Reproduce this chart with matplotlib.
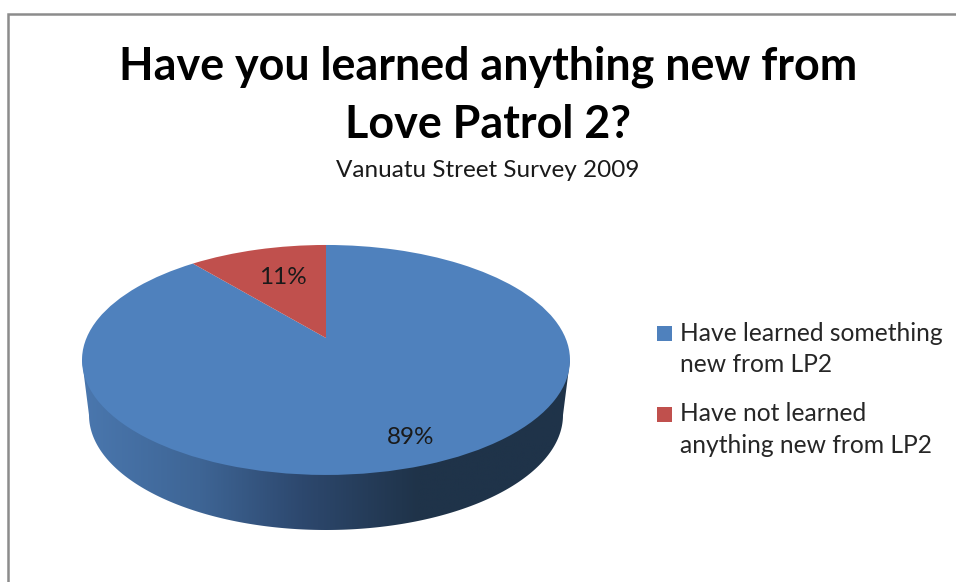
import numpy as np
import matplotlib
matplotlib.use('Agg')
import matplotlib.pyplot as plt
from matplotlib.colors import LinearSegmentedColormap
from matplotlib.patches import Polygon, Rectangle
from matplotlib.transforms import Transform

##Chart data##
TITLE = 'Have you learned anything new from\nLove Patrol 2?'
SUBTITLE = 'Vanuatu Street Survey 2009'
LABELS = ['Have learned something\nnew from LP2', 'Have not learned\nanything new from LP2']
VALUES = [89, 11]
COLORS = ['#4F81BD', '#C0504D']

##Pie geometry in pixels##
CX, APEX_Y = 326, 338
SX, SY, K = 239.5, 110.8, 0.191
TOP_CY, TOP_RX, TOP_RY = 360, 244, 115
LOW_CY, LOW_RX, LOW_RY = 415, 237, 115

plt.rcParams['font.family'] = ['Lato', 'DejaVu Sans']


#Tilts the flat pie into the picture, the far half is squeezed#
class Tilt(Transform):
    input_dims = 2
    output_dims = 2
    is_separable = False

    def transform_non_affine(self, values):
        x, y = np.asarray(values).T
        d = 1 + K * y
        return np.column_stack([CX + SX * x / d, APEX_Y - SY * y / d])


def draw_side(ax):
    t = np.linspace(np.pi, 2 * np.pi, 200)
    low = np.column_stack([CX + LOW_RX * np.cos(t), LOW_CY - LOW_RY * np.sin(t)])
    outline = np.vstack([[CX - TOP_RX, TOP_CY], low, [CX + TOP_RX, TOP_CY]])
    clip = Polygon(outline, closed=True, transform=ax.transData)
    cmap = LinearSegmentedColormap.from_list('side', [
        (0.0, '#4A77AE'), (0.24, '#3E6595'), (0.45, '#2D486E'),
        (0.69, '#1F3349'), (1.0, '#1F3349')])
    img = ax.imshow(np.linspace(0, 1, 256)[None, :], cmap=cmap, aspect='auto',
                    extent=(CX - TOP_RX, CX + TOP_RX, 535, 355), zorder=1)
    img.set_clip_path(clip)


def draw_legend(ax):
    square_tops = [325.5, 406.5]
    baselines = [(341, 372), (421, 453)]
    for label, color, top, (y1, y2) in zip(LABELS, COLORS, square_tops, baselines):
        ax.add_patch(Rectangle((657, top), 15, 15, facecolor=color, edgecolor='none'))
        first, second = label.split('\n')
        ax.text(680, y1, first, va='baseline', fontsize=17.7, color='#262626')
        ax.text(680, y2, second, va='baseline', fontsize=17.7, color='#262626')


def main():
    fig = plt.figure(figsize=(9.56, 5.82), dpi=100)
    ax = fig.add_axes([0, 0, 1, 1])

    wedges, _, pct = ax.pie(VALUES, colors=COLORS, startangle=90, counterclock=False,
                            autopct='%.0f%%', textprops={'fontsize': 17.5, 'color': '#1a1a1a'})
    tilt = Tilt()
    for w in wedges:
        w.set_transform(tilt + ax.transData)
        w.set_zorder(2)
    pct[0].set_position((411, 438))
    pct[1].set_position((283, 278))

    draw_side(ax)

    ax.set_aspect('auto')
    ax.set_xlim(0, 956)
    ax.set_ylim(582, 0)
    ax.axis('off')

    # chart frame, only top and left are in the crop
    ax.plot([956, 8.5, 8.5], [13.5, 13.5, 582], color='#8c8c8c', lw=1.8, solid_joinstyle='miter')

    line1, line2 = TITLE.split('\n')
    ax.text(488, 80, line1, ha='center', va='baseline', fontsize=32.3, fontweight='bold', color='black')
    ax.text(488, 138, line2, ha='center', va='baseline', fontsize=32.3, fontweight='bold', color='black')
    ax.text(488, 177, SUBTITLE, ha='center', va='baseline', fontsize=17.5, color='#1a1a1a')

    draw_legend(ax)

    fig.savefig('out.png', dpi=100)


if __name__ == "__main__":
    main()
